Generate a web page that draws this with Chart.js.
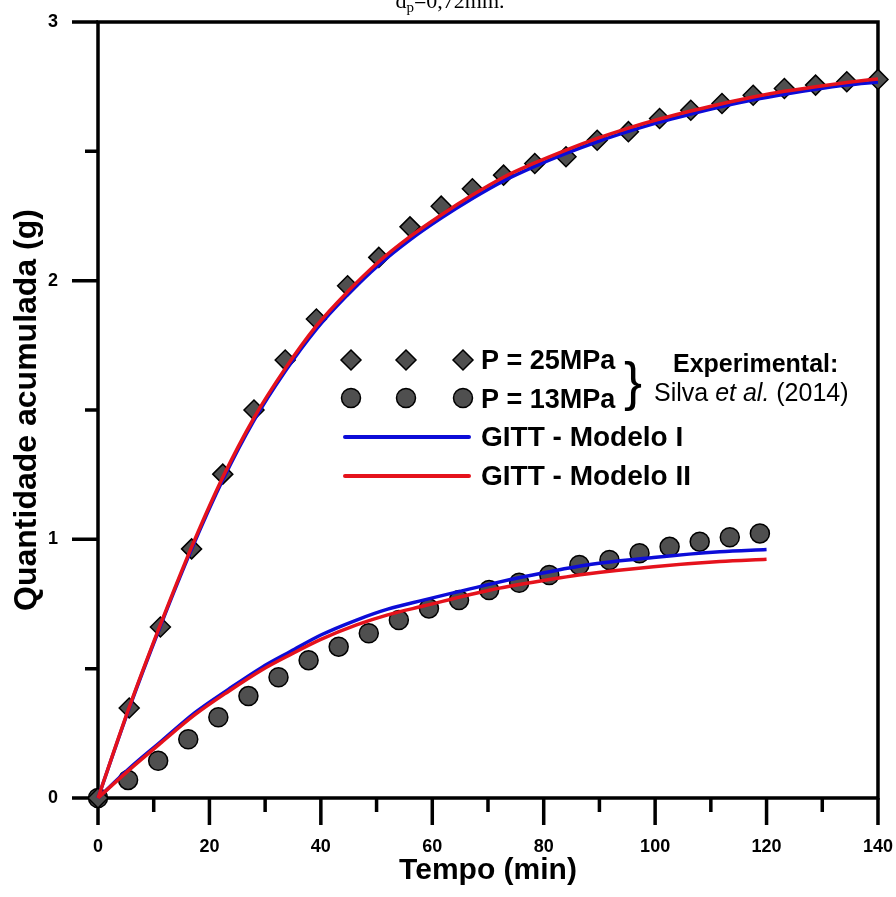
<!DOCTYPE html>
<html>
<head>
<meta charset="utf-8">
<script src="https://cdn.jsdelivr.net/npm/chart.js@4.4.0/dist/chart.umd.min.js"></script>
<style>
  html, body { margin: 0; padding: 0; background: #fff; }
</style>
</head>
<body>
<canvas id="grafico" width="896" height="897"></canvas>
<script>
// tempos experimentais (min)
const tempo25 = [0, 5.6, 11.2, 16.8, 22.4, 28, 33.6, 39.2, 44.8, 50.4, 56, 61.6, 67.2, 72.8, 78.4, 84, 89.6, 95.2, 100.8, 106.4, 112, 117.6, 123.2, 128.8, 134.4, 140];
const exp25 = [0, 0.348, 0.661, 0.963, 1.252, 1.5, 1.693, 1.852, 1.98, 2.09, 2.208, 2.288, 2.355, 2.408, 2.453, 2.479, 2.543, 2.576, 2.627, 2.659, 2.685, 2.717, 2.743, 2.756, 2.769, 2.778];

const tempo13 = [0, 5.4, 10.8, 16.2, 21.6, 27, 32.4, 37.8, 43.2, 48.6, 54, 59.4, 64.8, 70.2, 75.6, 81, 86.4, 91.8, 97.2, 102.6, 108, 113.4, 118.8];
const exp13 = [0, 0.07, 0.144, 0.227, 0.312, 0.394, 0.467, 0.533, 0.585, 0.637, 0.688, 0.733, 0.765, 0.804, 0.832, 0.862, 0.901, 0.92, 0.946, 0.971, 0.991, 1.008, 1.023];

// curvas GITT
const tempoModelo25 = tempo25;
const modeloI25 = [0, 0.347, 0.665, 0.962, 1.23, 1.46, 1.65, 1.813, 1.945, 2.061, 2.158, 2.242, 2.318, 2.386, 2.442, 2.492, 2.537, 2.577, 2.613, 2.644, 2.673, 2.699, 2.721, 2.74, 2.756, 2.768];
const modeloII25 = [0, 0.35, 0.67, 0.97, 1.24, 1.47, 1.66, 1.825, 1.957, 2.073, 2.17, 2.254, 2.331, 2.4, 2.455, 2.505, 2.55, 2.59, 2.625, 2.656, 2.684, 2.71, 2.732, 2.75, 2.766, 2.78];

const tempoModelo13 = [0, 5.4, 11.4, 17.4, 23.4, 29.4, 34.6, 40, 46.4, 52, 58.4, 70.4, 76.4, 87.7, 99.7, 111.6, 120];
const modeloI13 = [0, 0.11, 0.22, 0.33, 0.42, 0.505, 0.567, 0.63, 0.688, 0.73, 0.765, 0.827, 0.855, 0.901, 0.93, 0.952, 0.961];
const modeloII13 = [0, 0.105, 0.215, 0.322, 0.412, 0.495, 0.555, 0.613, 0.669, 0.708, 0.742, 0.804, 0.828, 0.866, 0.894, 0.914, 0.923];

// marcas dos eixos
const xMaiores = [0, 20, 40, 60, 80, 100, 120, 140];
const xMenores = [10, 30, 50, 70, 90, 110, 130];
const yMaiores = [0, 1, 2, 3];
const yMenores = [0.5, 1.5, 2.5];

const AZUL = "#0c0cd8";
const VERMELHO = "#e5121c";
const CINZA = "#4f4f4f";
const FONTE = '"Liberation Sans", Arial, sans-serif';

function pares(xs, ys) {
  return xs.map((v, i) => ({ x: v, y: ys[i] }));
}

// moldura e marcas (desenhadas pelas escalas do chart)
const moldura = {
  id: "moldura",
  beforeDatasetsDraw(chart) {
    const { ctx, chartArea: a, scales } = chart;
    const sx = scales.x, sy = scales.y;
    ctx.save();
    ctx.strokeStyle = "#000";
    ctx.lineWidth = 3.5;
    ctx.lineCap = "square";
    ctx.strokeRect(a.left, a.top, a.right - a.left, a.bottom - a.top);
    ctx.lineCap = "butt";
    ctx.beginPath();
    xMaiores.forEach((v) => { const p = sx.getPixelForValue(v); ctx.moveTo(p, a.bottom); ctx.lineTo(p, a.bottom + 27); });
    xMenores.forEach((v) => { const p = sx.getPixelForValue(v); ctx.moveTo(p, a.bottom); ctx.lineTo(p, a.bottom + 14); });
    yMaiores.forEach((v) => { const p = sy.getPixelForValue(v); ctx.moveTo(a.left, p); ctx.lineTo(a.left - 26, p); });
    yMenores.forEach((v) => { const p = sy.getPixelForValue(v); ctx.moveTo(a.left, p); ctx.lineTo(a.left - 13, p); });
    ctx.stroke();
    ctx.restore();
  },
  afterDraw(chart) {
    const ctx = chart.ctx;
    ctx.save();
    // titulo cortado no topo
    ctx.fillStyle = "#000";
    ctx.textBaseline = "alphabetic";
    ctx.font = '22px "Liberation Serif", serif';
    const w1 = ctx.measureText("d").width;
    ctx.font = '15px "Liberation Serif", serif';
    const w2 = ctx.measureText("p").width;
    ctx.font = '22px "Liberation Serif", serif';
    const w3 = ctx.measureText("=0,72mm.").width;
    let x0 = 450 - (w1 + w2 + w3) / 2;
    ctx.fillText("d", x0, 8);
    ctx.font = '15px "Liberation Serif", serif';
    ctx.fillText("p", x0 + w1, 12);
    ctx.font = '22px "Liberation Serif", serif';
    ctx.fillText("=0,72mm.", x0 + w1 + w2, 8);

    // legenda
    const xs = [351, 406, 463];
    ctx.lineWidth = 1.5;
    ctx.strokeStyle = "#000";
    ctx.fillStyle = CINZA;
    xs.forEach((cx) => {
      ctx.beginPath();
      ctx.moveTo(cx, 360 - 10); ctx.lineTo(cx + 10, 360); ctx.lineTo(cx, 370); ctx.lineTo(cx - 10, 360);
      ctx.closePath(); ctx.fill(); ctx.stroke();
      ctx.beginPath();
      ctx.arc(cx, 398, 9.5, 0, Math.PI * 2);
      ctx.fill(); ctx.stroke();
    });
    ctx.lineWidth = 4;
    ctx.lineCap = "round";
    ctx.strokeStyle = AZUL;
    ctx.beginPath(); ctx.moveTo(345, 437); ctx.lineTo(469, 437); ctx.stroke();
    ctx.strokeStyle = VERMELHO;
    ctx.beginPath(); ctx.moveTo(345, 476); ctx.lineTo(469, 476); ctx.stroke();

    ctx.fillStyle = "#000";
    ctx.font = "bold 27px " + FONTE;
    ctx.fillText("P = 25MPa", 481, 369);
    ctx.fillText("P = 13MPa", 481, 408);
    ctx.font = "bold 28px " + FONTE;
    ctx.fillText("GITT - Modelo I", 481, 446);
    ctx.fillText("GITT - Modelo II", 481, 485);

    ctx.font = "54px " + FONTE;
    ctx.fillText("}", 624, 400);

    ctx.font = "bold 25px " + FONTE;
    ctx.fillText("Experimental:", 673, 372);
    let xx = 654;
    ctx.font = "25px " + FONTE;
    ctx.fillText("Silva ", xx, 401);
    xx += ctx.measureText("Silva ").width;
    ctx.font = "italic 25px " + FONTE;
    ctx.fillText("et al.", xx, 401);
    xx += ctx.measureText("et al.").width;
    ctx.font = "25px " + FONTE;
    ctx.fillText(" (2014)", xx, 401);
    ctx.restore();
  }
};

const ctx = document.getElementById("grafico").getContext("2d");

new Chart(ctx, {
  type: "scatter",
  data: {
    datasets: [
      { data: pares(tempoModelo25, modeloII25), showLine: true, borderColor: VERMELHO, borderWidth: 3.5, pointRadius: 0, cubicInterpolationMode: "monotone", clip: false, order: 1 },
      { data: pares(tempoModelo13, modeloII13), showLine: true, borderColor: VERMELHO, borderWidth: 3.5, pointRadius: 0, cubicInterpolationMode: "monotone", clip: false, order: 1 },
      { data: pares(tempoModelo25, modeloI25), showLine: true, borderColor: AZUL, borderWidth: 3.5, pointRadius: 0, cubicInterpolationMode: "monotone", clip: false, order: 2 },
      { data: pares(tempoModelo13, modeloI13), showLine: true, borderColor: AZUL, borderWidth: 3.5, pointRadius: 0, cubicInterpolationMode: "monotone", clip: false, order: 2 },
      { data: pares(tempo25, exp25), pointStyle: "rectRot", pointRadius: 10, backgroundColor: CINZA, borderColor: "#000", pointBorderWidth: 1.5, clip: false, order: 3 },
      { data: pares(tempo13, exp13), pointStyle: "circle", pointRadius: 9.5, backgroundColor: CINZA, borderColor: "#000", pointBorderWidth: 1.5, clip: false, order: 3 },
    ],
  },
  options: {
    responsive: false,
    animation: false,
    events: [],
    layout: { padding: { left: 0, right: 18, top: 22, bottom: 0 } },
    plugins: { legend: { display: false }, tooltip: { enabled: false } },
    scales: {
      x: {
        type: "linear",
        min: 0,
        max: 140,
        border: { display: false },
        grid: { display: false, drawTicks: true, tickLength: 35 },
        ticks: { stepSize: 20, padding: 3, color: "#000", font: { family: FONTE, size: 18, weight: "bold" } },
        title: { display: true, text: "Tempo (min)", color: "#000", padding: { top: 0, bottom: 8 }, font: { family: FONTE, size: 30, weight: "bold" } },
        afterFit: (s) => { s.height = 99; },
      },
      y: {
        min: 0,
        max: 3,
        border: { display: false },
        grid: { display: false, drawTicks: true, tickLength: 37 },
        ticks: { stepSize: 1, padding: 3, color: "#000", font: { family: FONTE, size: 18, weight: "bold" } },
        title: { display: true, text: "Quantidade acumulada (g)", color: "#000", padding: { top: 8, bottom: 0 }, font: { family: FONTE, size: 32, weight: "bold" } },
        afterFit: (s) => { s.width = 98; },
      },
    },
  },
  plugins: [moldura],
});
</script>
</body>
</html>
